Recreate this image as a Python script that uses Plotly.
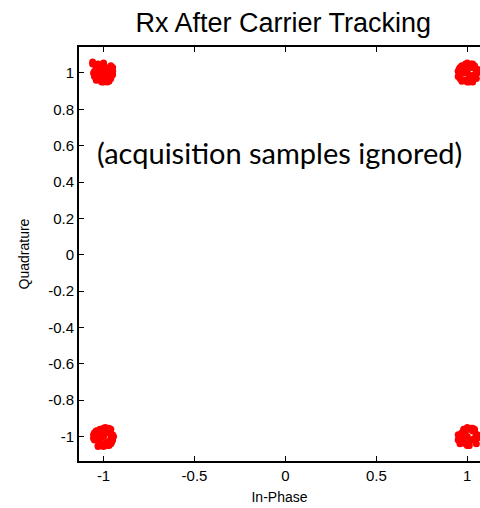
import plotly.graph_objects as go

# Top-left cluster (-1, +1)
tl_i = [-1.00, -0.98, -1.02, -0.96, -1.04, -0.99, -1.01, -0.97, -1.03, -0.95, -1.05, -1.00,
        -0.98, -1.02, -0.96, -1.04, -1.06, -0.95, -1.00, -0.99, -1.01, -1.03, -0.97, -1.05,
        -0.95, -1.02, -0.98, -1.055, -0.96, -1.00, -1.04, -0.97, -1.01, -0.99, -1.03, -1.06]
tl_q = [1.00, 1.02, 0.98, 1.01, 1.03, 0.96, 1.04, 0.97, 1.00, 0.99, 0.98, 1.05,
        0.95, 1.02, 1.04, 0.96, 1.05, 1.01, 0.95, 1.03, 0.99, 1.05, 0.955, 1.01,
        1.03, 0.96, 1.00, 1.00, 0.97, 1.055, 0.99, 1.02, 0.95, 0.98, 0.97, 1.06]

# Top-right cluster (+1, +1)
tr_i = [1.00, 1.02, 0.98, 1.04, 0.96, 1.01, 0.99, 1.03, 0.97, 1.05, 0.955, 1.00,
        1.02, 0.98, 1.04, 0.96, 1.055, 0.95, 1.00, 1.01, 0.99, 0.97, 1.03, 0.955,
        1.05, 0.98, 1.02, 0.96, 1.04, 1.00, 1.055, 0.97, 1.01, 0.99, 1.03, 0.95]
tr_q = [1.00, 0.98, 1.02, 0.99, 1.01, 1.04, 0.96, 1.03, 1.00, 1.01, 0.99, 0.95,
        1.05, 0.96, 0.97, 1.03, 1.02, 0.98, 1.055, 0.95, 1.05, 0.955, 1.05, 1.02,
        0.97, 1.00, 1.03, 0.97, 1.04, 0.96, 1.00, 1.04, 0.99, 1.02, 0.95, 1.01]

# Bottom-left cluster (-1, -1)
bl_i = [-1.00, -0.98, -1.02, -0.96, -1.04, -0.99, -1.01, -0.97, -1.03, -0.95, -1.05, -1.00,
        -0.98, -1.02, -0.96, -1.04, -1.055, -0.95, -1.00, -0.99, -1.01, -1.03, -0.97, -1.05,
        -0.955, -1.02, -0.98, -1.055, -0.96, -1.00, -1.04, -0.97, -1.01, -0.99, -1.03, -0.945]
bl_q = [-1.00, -0.98, -1.02, -1.01, -0.97, -1.04, -0.96, -1.03, -1.00, -0.99, -1.02, -0.955,
        -1.05, -0.96, -1.04, -0.97, -1.01, -1.02, -1.055, -0.95, -0.99, -1.05, -0.955, -0.98,
        -1.03, -1.00, -1.03, -0.99, -0.96, -1.04, -1.01, -1.05, -0.97, -0.98, -1.055, -1.00]

# Bottom-right cluster (+1, -1)
br_i = [1.00, 1.02, 0.98, 1.04, 0.96, 1.01, 0.99, 1.03, 0.97, 1.05, 0.955, 1.00,
        1.02, 0.98, 1.04, 0.96, 1.055, 0.95, 1.00, 1.01, 0.99, 0.97, 1.03, 0.955,
        1.05, 0.98, 1.02, 0.96, 1.04, 1.00, 1.055, 0.97, 1.01, 0.99, 1.03, 0.95]
br_q = [-1.00, -1.02, -0.98, -1.01, -0.99, -0.96, -1.04, -0.97, -1.00, -0.99, -1.01, -1.05,
        -0.955, -1.03, -0.97, -1.04, -0.99, -1.02, -0.95, -1.05, -0.96, -1.03, -0.955, -1.00,
        -1.04, -0.96, -1.02, -1.03, -0.96, -1.04, -1.01, -0.98, -1.05, -0.97, -1.02, -0.99]

x_ticks = [-1, -0.5, 0, 0.5, 1]
x_tick_labels = ["-1", "-0.5", "0", "0.5", "1"]
y_ticks = [-1, -0.8, -0.6, -0.4, -0.2, 0, 0.2, 0.4, 0.6, 0.8, 1]
y_tick_labels = ["-1", "-0.8", "-0.6", "-0.4", "-0.2", "0", "0.2", "0.4", "0.6", "0.8", "1"]

title_text = "Rx After Carrier Tracking"
note_text = "(acquisition samples ignored)"

all_i = tl_i + tr_i + bl_i + br_i
all_q = tl_q + tr_q + bl_q + br_q

fig = go.Figure()
fig.add_trace(go.Scatter(
    x=all_i, y=all_q, mode="markers",
    marker=dict(color="#ff0000", size=7, line=dict(width=0)),
    showlegend=False, cliponaxis=False,
))

tick_font = dict(family="Liberation Sans, Arial, sans-serif", size=15, color="#000000")
label_font = dict(family="Liberation Sans, Arial, sans-serif", size=14, color="#000000")

fig.update_layout(
    width=480, height=508,
    margin=dict(l=79, r=0, t=47, b=47),
    paper_bgcolor="white", plot_bgcolor="white",
    title=dict(text=title_text, x=0.59, xanchor="center", y=0.955, yanchor="middle",
               font=dict(family="Liberation Sans, Arial, sans-serif", size=27, color="#000000")),
    xaxis=dict(range=[-1.135, 1.07], tickvals=x_ticks, ticktext=x_tick_labels,
               showgrid=False, zeroline=False, showline=True, linecolor="#000000", linewidth=2,
               mirror="ticks", ticks="inside", ticklen=5, tickwidth=1, tickcolor="#000000",
               tickfont=tick_font,
               title=dict(text="In-Phase", font=label_font, standoff=9)),
    yaxis=dict(range=[-1.135, 1.143], tickvals=y_ticks, ticktext=y_tick_labels,
               showgrid=False, zeroline=False, showline=True, linecolor="#000000", linewidth=2,
               mirror=False, ticks="inside", ticklen=5, tickwidth=1, tickcolor="#000000",
               tickfont=tick_font,
               title=dict(text="Quadrature", font=label_font, standoff=15)),
    annotations=[dict(
        x=-0.03, y=0.565, xref="x", yref="y", text=note_text, showarrow=False,
        font=dict(family="Lato, Open Sans, sans-serif", size=29, color="#000000"),
        xanchor="center", yanchor="middle",
    )],
)

fig.write_html("out.html", config={"displayModeBar": False},
               post_script="document.body.style.margin='0';document.body.style.overflow='hidden';")
